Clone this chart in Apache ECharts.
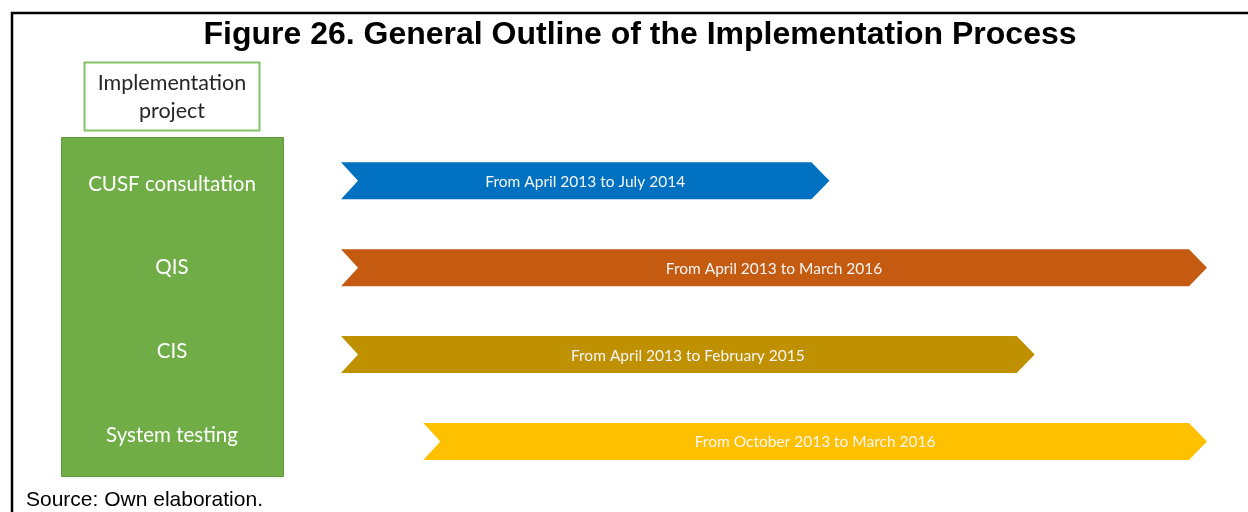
<!DOCTYPE html>
<html>
<head>
<meta charset="utf-8">
<title>General Outline of the Implementation Process</title>
<script src="https://cdn.jsdelivr.net/npm/echarts@6/dist/echarts.min.js"></script>
<style>
  html, body { margin: 0; padding: 0; background: #ffffff; }
  #chart { width: 1248px; height: 512px; }
</style>
</head>
<body>
<div id="chart"></div>
<script>
// Project stages (rows, top to bottom)
const stages = ['CUSF consultation', 'QIS', 'CIS', 'System testing'];

// Period text written on each arrow
const periods = [
  'From April 2013 to July 2014',
  'From April 2013 to March 2016',
  'From April 2013 to February 2015',
  'From October 2013 to March 2016'
];

// Arrow extents on a schematic 0–100 timeline (the diagram is not drawn to scale)
const startPos = [0, 0, 0, 9.5];
const endPos = [56.4, 100, 80.1, 100];

const arrowColors = ['#0070C0', '#C55A11', '#BF9000', '#FFC000'];
const green = '#70AD47';
const bodyFont = 'Lato, "Open Sans", sans-serif';

const arrowData = stages.map((s, i) => [i, startPos[i], endPos[i]]);

const chart = echarts.init(document.getElementById('chart'), null, { renderer: 'canvas' });

// Chevron arrow: notched tail on the left, pointed head on the right
function renderArrow(params, api) {
  const i = api.value(0);
  const a = api.coord([api.value(1), i]);
  const b = api.coord([api.value(2), i]);
  const x0 = a[0], x1 = b[0], cy = a[1];
  const h = 37, notch = 17, tip = 18;
  const top = cy - h / 2, bot = cy + h / 2;
  return {
    type: 'group',
    children: [
      {
        type: 'polygon',
        shape: { points: [[x0, top], [x1 - tip, top], [x1, cy], [x1 - tip, bot], [x0, bot], [x0 + notch, cy]] },
        style: { fill: arrowColors[i] }
      },
      {
        type: 'text',
        style: {
          text: periods[i],
          x: (x0 + x1) / 2,
          y: cy + 1,
          align: 'center',
          verticalAlign: 'middle',
          fill: '#F5F5F5',
          font: '15.5px ' + bodyFont
        }
      }
    ]
  };
}

chart.setOption({
  animation: false,
  title: {
    text: 'Figure 26. General Outline of the Implementation Process',
    left: 635,
    top: 14,
    textAlign: 'center',
    textStyle: { fontFamily: '"Liberation Sans", Arial, sans-serif', fontWeight: 'bold', fontSize: 32, color: '#000' }
  },
  graphic: [
    // frame lines (top and left)
    { type: 'polyline', shape: { points: [[12, 512], [12, 13], [1248, 13]] }, style: { stroke: '#000', lineWidth: 2.5, fill: null }, z: 10 },
    // header box
    { type: 'rect', shape: { x: 84.5, y: 62.5, width: 175, height: 68 }, style: { fill: '#fff', stroke: '#86C165', lineWidth: 2 } },
    { type: 'text', style: { text: 'Implementation\nproject', x: 172, y: 97.5, align: 'center', verticalAlign: 'middle', lineHeight: 28, fill: '#262626', font: '21.5px ' + bodyFont } },
    // stage column
    { type: 'rect', shape: { x: 61.5, y: 137.5, width: 222, height: 339 }, style: { fill: green, stroke: '#5E9A3A', lineWidth: 1 } },
    // source note
    { type: 'text', style: { text: 'Source: Own elaboration.', x: 26, y: 500, verticalAlign: 'middle', fill: '#000', font: '21px "Liberation Sans", Arial, sans-serif' } }
  ],
  grid: [
    { left: 341, right: 41, top: 137.3, height: 347.6 },
    { left: 284, width: 10, top: 142.2, height: 334.7 }
  ],
  xAxis: [
    { type: 'value', gridIndex: 0, min: 0, max: 100, show: false },
    { type: 'value', gridIndex: 1, min: 0, max: 1, show: false }
  ],
  yAxis: [
    { type: 'category', gridIndex: 0, data: stages, inverse: true, show: false },
    {
      type: 'category', gridIndex: 1, data: stages, inverse: true, position: 'left',
      axisLine: { show: false }, axisTick: { show: false }, splitLine: { show: false },
      axisLabel: { margin: 112, align: 'center', color: '#ffffff', fontSize: 20.5, fontFamily: bodyFont }
    }
  ],
  series: [
    {
      type: 'custom',
      xAxisIndex: 0,
      yAxisIndex: 0,
      renderItem: renderArrow,
      encode: { x: [1, 2], y: 0 },
      data: arrowData
    }
  ]
});
</script>
</body>
</html>
